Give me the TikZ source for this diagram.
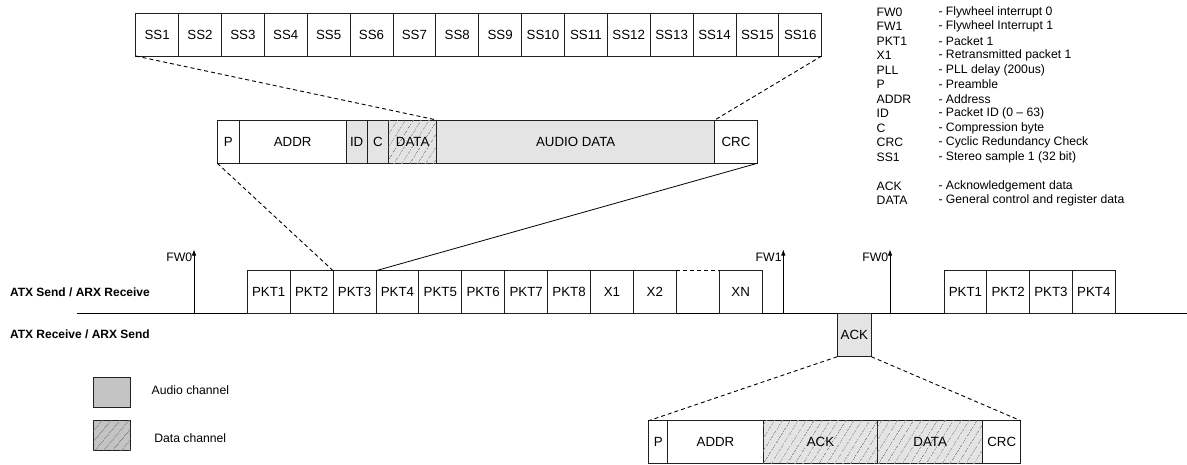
\documentclass[tikz,border=0pt]{standalone}
\usepackage{fontspec}
\setmainfont{Liberation Sans}
\usetikzlibrary{patterns.meta,arrows.meta}
\definecolor{lightfill}{HTML}{E4E4E4}
\definecolor{legfill}{HTML}{C4C4C4}
\definecolor{hatchline}{HTML}{808080}
\definecolor{edge}{HTML}{202020}
\tikzset{
  cell/.style={draw=edge, line width=0.9pt, inner sep=0pt, outer sep=0pt, font=\fontsize{13.3}{15}\selectfont, anchor=north west},
  gcell/.style={cell, fill=lightfill},
  hcell/.style={cell, fill=lightfill, postaction={pattern={Lines[angle=58,distance=6.5pt,line width=0.6pt]}, pattern color=hatchline}},
  lhcell/.style={cell, fill=legfill, postaction={pattern={Lines[angle=50,distance=6.5pt,line width=0.7pt]}, pattern color=black!60}},
  zoomline/.style={line width=0.9pt, dashed, dash pattern=on 4pt off 3pt, draw=black},
  solidline/.style={line width=0.8pt, draw=black},
  fwarrow/.style={line width=0.8pt, -{Latex[length=6pt,width=4.5pt]}},
  lab/.style={inner sep=0pt, outer sep=0pt, font=\fontsize{12.3}{14}\selectfont},
  rowlab/.style={inner sep=0pt, outer sep=0pt, anchor=west, font=\fontsize{12}{14}\selectfont\bfseries},
  legtxt/.style={inner sep=0pt, outer sep=0pt, anchor=west, font=\fontsize{12.2}{14}\selectfont}
}
\begin{document}
\begin{tikzpicture}[x=1pt,y=-1pt]
\useasboundingbox (0,0) rectangle (1187,464);

% ---------- Stereo sample row ----------
\foreach \i in {1,...,16} {
  \node[cell, minimum width=42.875pt, minimum height=43pt] (ss\i) at ({135.7+(\i-1)*42.875},13) {SS\i};
}

% ---------- Audio packet ----------
\node[cell, minimum width=22pt, minimum height=43.3pt] (pp) at (217.3,120) {P};
\node[cell, minimum width=106.7pt, minimum height=43.3pt] (paddr) at (pp.north east) {ADDR};
\node[gcell, minimum width=21.3pt, minimum height=43.3pt] (pid) at (paddr.north east) {ID};
\node[gcell, minimum width=21.4pt, minimum height=43.3pt] (pc) at (pid.north east) {C};
\node[hcell, minimum width=48pt, minimum height=43.3pt] (pdata) at (pc.north east) {DATA};
\node[gcell, minimum width=278pt, minimum height=43.3pt] (paudio) at (pdata.north east) {AUDIO DATA};
\node[cell, minimum width=42.6pt, minimum height=43.3pt] (pcrc) at (paudio.north east) {CRC};

\draw[zoomline] (ss1.south west) -- (pdata.north east);
\draw[zoomline] (ss16.south east) -- (pcrc.north west);

% ---------- Timeline ----------
\coordinate (bl0) at (76.7,313.3);
\coordinate (bl1) at (1187,313.3);
\draw[line width=0.8pt] (bl0) -- (bl1);

\node[rowlab] (r1) at (10,292.3) {ATX Send / ARX Receive};
\node[rowlab] (r2) at (10,334.3) {ATX Receive / ARX Send};

\node[cell, minimum width=42.9pt, minimum height=42.6pt] (t1) at (247.3,270.7) {PKT1};
\node[cell, minimum width=42.9pt, minimum height=42.6pt] (t2) at (t1.north east) {PKT2};
\node[cell, minimum width=42.9pt, minimum height=42.6pt] (t3) at (t2.north east) {PKT3};
\node[cell, minimum width=42.9pt, minimum height=42.6pt] (t4) at (t3.north east) {PKT4};
\node[cell, minimum width=42.9pt, minimum height=42.6pt] (t5) at (t4.north east) {PKT5};
\node[cell, minimum width=42.9pt, minimum height=42.6pt] (t6) at (t5.north east) {PKT6};
\node[cell, minimum width=42.9pt, minimum height=42.6pt] (t7) at (t6.north east) {PKT7};
\node[cell, minimum width=42.9pt, minimum height=42.6pt] (t8) at (t7.north east) {PKT8};
\node[cell, minimum width=42.9pt, minimum height=42.6pt] (tx1) at (t8.north east) {X1};
\node[cell, minimum width=42.9pt, minimum height=42.6pt] (tx2) at (tx1.north east) {X2};
\node[inner sep=0pt, outer sep=0pt, anchor=north west, minimum width=42.9pt, minimum height=42.6pt] (tblank) at (tx2.north east) {};
\node[cell, minimum width=42.9pt, minimum height=42.6pt] (txn) at (tblank.north east) {XN};
\draw[zoomline] (tblank.north west) -- (tblank.north east);

\draw[zoomline] (pp.south west) -- (t3.north west);
\draw[solidline] (pcrc.south east) -- (t3.north east);

% flywheel arrows
\coordinate (fa0) at (194,313.3);  \coordinate (fb0) at (194,249.5);
\coordinate (fa1) at (783.3,313.3); \coordinate (fb1) at (783.3,249.5);
\coordinate (fa2) at (890,313.3);  \coordinate (fb2) at (890,249.5);
\draw[fwarrow] (fa0) -- (fb0);
\draw[fwarrow] (fa1) -- (fb1);
\draw[fwarrow] (fa2) -- (fb2);
\node[lab, anchor=east] (lfw0) at (192.3,257.3) {FW0};
\node[lab, anchor=east] (lfw1) at (781.6,257.3) {FW1};
\node[lab, anchor=east] (lfw2) at (888.3,257.3) {FW0};

% ACK on receive line
\node[gcell, minimum width=34pt, minimum height=43.4pt] (tack) at (837.3,313.3) {ACK};

% second group
\node[cell, minimum width=42.8pt, minimum height=42.6pt] (u1) at (944,270.7) {PKT1};
\node[cell, minimum width=42.8pt, minimum height=42.6pt] (u2) at (u1.north east) {PKT2};
\node[cell, minimum width=42.8pt, minimum height=42.6pt] (u3) at (u2.north east) {PKT3};
\node[cell, minimum width=42.8pt, minimum height=42.6pt] (u4) at (u3.north east) {PKT4};

% ---------- ACK packet ----------
\node[cell, minimum width=19pt, minimum height=43pt] (bp) at (648.7,420.7) {P};
\node[cell, minimum width=95.6pt, minimum height=43pt] (baddr) at (bp.north east) {ADDR};
\node[hcell, minimum width=114.4pt, minimum height=43pt] (back) at (baddr.north east) {ACK};
\node[hcell, minimum width=105pt, minimum height=43pt] (bdata) at (back.north east) {DATA};
\node[cell, minimum width=38pt, minimum height=43pt] (bcrc) at (bdata.north east) {CRC};

\draw[zoomline] (tack.south west) -- (bp.north west);
\draw[zoomline] (tack.south east) -- (bcrc.north east);

% ---------- channel legend ----------
\node[cell, fill=legfill, minimum width=37.4pt, minimum height=30.4pt] (legaudio) at (93.3,377.3) {};
\node[legtxt] (legaudiot) at (151.7,390) {Audio channel};
\node[lhcell, minimum width=37.4pt, minimum height=29.3pt] (legdata) at (93.3,420.7) {};
\node[legtxt] (legdatat) at (154.3,438.3) {Data channel};

% ---------- abbreviation legend ----------
\foreach \a/\d [count=\k from 0] in {FW0/- Flywheel interrupt 0, FW1/- Flywheel Interrupt 1, PKT1/- Packet 1, X1/- Retransmitted packet 1, PLL/- PLL delay (200us), P/- Preamble, ADDR/- Address, ID/- Packet ID (0 – 63), C/- Compression byte, CRC/- Cyclic Redundancy Check, SS1/- Stereo sample 1 (32 bit)} {
  \node[legtxt] (ka\k) at (876.7,{12+14.5*\k}) {\a};
  \node[legtxt] (kd\k) at (938.5,{12+14.5*\k}) {\d};
}
\node[legtxt] (kaack) at (876.7,186) {ACK};
\node[legtxt] (kdack) at (938.5,186) {- Acknowledgement data};
\node[legtxt] (kadata) at (876.7,200.5) {DATA};
\node[legtxt] (kddata) at (938.5,200.5) {- General control and register data};
\end{tikzpicture}
\end{document}
